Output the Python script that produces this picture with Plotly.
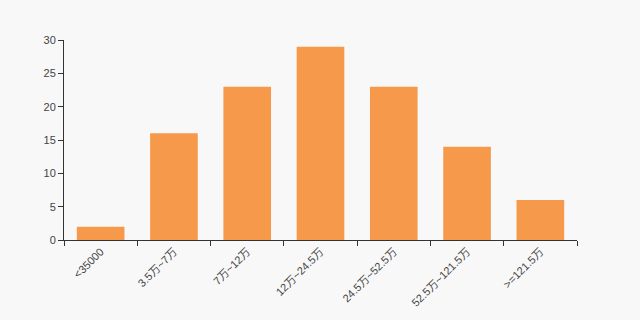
import plotly.graph_objects as go

categories = ["<35000", "3.5万~7万", "7万~12万", "12万~24.5万", "24.5万~52.5万", "52.5万~121.5万", ">=121.5万"]
values = [2, 16, 23, 29, 23, 14, 6]
y_ticks = [0, 5, 10, 15, 20, 25, 30]

fig = go.Figure(go.Bar(x=categories, y=values, marker=dict(color="#f7994a", line=dict(width=0)), width=0.65))

fig.update_layout(
    width=640, height=320,
    margin=dict(l=64, r=63, t=40, b=80),
    paper_bgcolor="#f8f8f8", plot_bgcolor="#f8f8f8",
    font=dict(family="Liberation Sans, Noto Sans CJK SC, sans-serif", size=11, color="#444"),
    showlegend=False,
    bargap=0.35,
)
fig.update_xaxes(
    type="category", tickangle=-45, tickson="boundaries",
    showline=True, linecolor="#333", linewidth=1,
    ticks="outside", ticklen=5, tickcolor="#333",
    showgrid=False, zeroline=False,
)
fig.update_yaxes(
    range=[0, 30], tickvals=y_ticks,
    showline=True, linecolor="#333", linewidth=1,
    ticks="outside", ticklen=5, tickcolor="#333",
    showgrid=False, zeroline=False,
)
fig.write_html("out.html")
